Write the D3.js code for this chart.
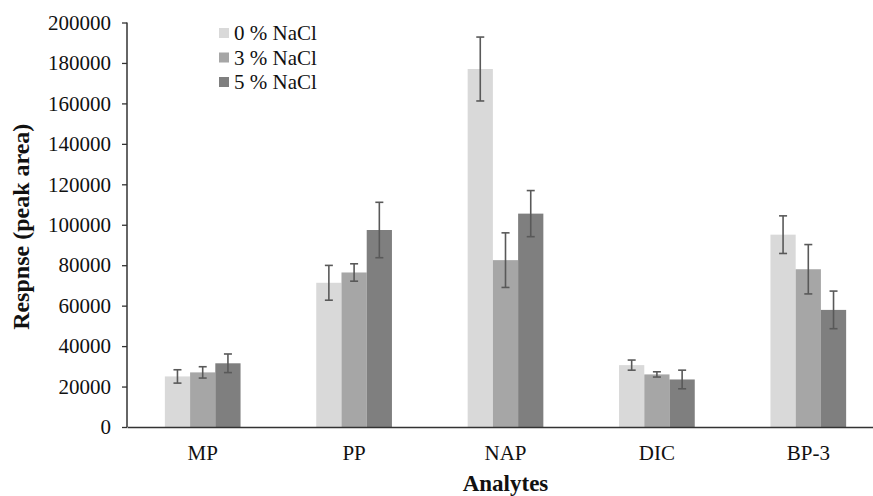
<!DOCTYPE html>
<html>
<head>
<meta charset="utf-8">
<script src="https://cdn.jsdelivr.net/npm/d3@7"></script>
<style>
  body { margin: 0; background: #fff; }
  svg { display: block; font-family: "Liberation Serif", "Times New Roman", serif; }
</style>
</head>
<body>
<svg></svg>
<script>
// size of the picture
var width = 873;
var height = 496;

// data
var analytes = ["MP", "PP", "NAP", "DIC", "BP-3"];
var seriesNames = ["0 % NaCl", "3 % NaCl", "5 % NaCl"];
var salt0 = [25000, 71300, 177000, 30600, 95100];
var salt3 = [27000, 76400, 82500, 26000, 78000];
var salt5 = [31500, 97400, 105500, 23500, 57900];
var err0 = [3300, 8600, 15800, 2500, 9300];
var err3 = [2800, 4300, 13500, 1300, 12200];
var err5 = [4600, 13700, 11400, 4600, 9300];
var yTicks = [0, 20000, 40000, 60000, 80000, 100000, 120000, 140000, 160000, 180000, 200000];
var colors = ["#d9d9d9", "#a6a6a6", "#7f7f7f"];

var values = [salt0, salt3, salt5];
var errors = [err0, err3, err5];

var svg = d3.select("svg")
    .attr("width", width)
    .attr("height", height);

// scales
var x = d3.scaleBand()
    .domain(analytes)
    .range([127, 884])
    .paddingInner(0.5)
    .paddingOuter(0.25);

var xSub = d3.scaleBand()
    .domain(seriesNames)
    .range([0, x.bandwidth()]);

var y = d3.scaleLinear()
    .domain([0, 200000])
    .range([427, 22.5]);

// build flat table for the bars
var rows = [];
analytes.forEach(function(a, i) {
    seriesNames.forEach(function(s, j) {
        rows.push({ analyte: a, series: s, idx: j, value: values[j][i], err: errors[j][i] });
    });
});

// bars
svg.append("g")
    .selectAll("rect")
    .data(rows)
    .enter().append("rect")
    .attr("x", function(d) { return x(d.analyte) + xSub(d.series); })
    .attr("y", function(d) { return y(d.value); })
    .attr("width", xSub.bandwidth())
    .attr("height", function(d) { return y(0) - y(d.value); })
    .attr("fill", function(d) { return colors[d.idx]; });

// error bars
var eb = svg.append("g")
    .attr("stroke", "#595959")
    .attr("stroke-width", 1.6)
    .selectAll("g")
    .data(rows)
    .enter().append("g")
    .attr("transform", function(d) {
        return "translate(" + (x(d.analyte) + xSub(d.series) + xSub.bandwidth() / 2) + ",0)";
    });

eb.append("line")
    .attr("y1", function(d) { return y(d.value + d.err); })
    .attr("y2", function(d) { return y(d.value - d.err); });
eb.append("line")
    .attr("x1", -4).attr("x2", 4)
    .attr("y1", function(d) { return y(d.value + d.err); })
    .attr("y2", function(d) { return y(d.value + d.err); });
eb.append("line")
    .attr("x1", -4).attr("x2", 4)
    .attr("y1", function(d) { return y(d.value - d.err); })
    .attr("y2", function(d) { return y(d.value - d.err); });

// y axis
var yAxis = svg.append("g")
    .attr("transform", "translate(127,0)")
    .call(d3.axisLeft(y)
        .tickValues(yTicks)
        .tickSize(5)
        .tickPadding(11)
        .tickFormat(d3.format("d")));
yAxis.select(".domain").attr("stroke", "#333").attr("stroke-width", 1.5)
    .attr("d", "M0," + y(200000) + "V" + y(0));
yAxis.selectAll(".tick line").attr("stroke", "#333").attr("stroke-width", 1.3);
yAxis.selectAll(".tick text")
    .style("font-family", "Liberation Serif")
    .style("font-size", "21px")
    .attr("fill", "#111");

// x axis
var xAxis = svg.append("g")
    .attr("transform", "translate(0,427)")
    .call(d3.axisBottom(x).tickSize(0).tickPadding(18));
xAxis.select(".domain").attr("stroke", "#333").attr("stroke-width", 1.5);
xAxis.selectAll(".tick text")
    .style("font-family", "Liberation Serif")
    .style("font-size", "21px")
    .attr("fill", "#111");

// axis titles
svg.append("text")
    .attr("transform", "translate(29," + ((y(0) + y(200000)) / 2 + 2) + ") rotate(-90)")
    .attr("text-anchor", "middle")
    .attr("font-weight", "bold")
    .style("font-size", "24px")
    .attr("fill", "#111")
    .text("Respnse (peak area)");

svg.append("text")
    .attr("x", (x.range()[0] + x.range()[1]) / 2)
    .attr("y", 491)
    .attr("text-anchor", "middle")
    .attr("font-weight", "bold")
    .style("font-size", "23px")
    .attr("fill", "#111")
    .text("Analytes");

// legend
var legend = svg.append("g")
    .attr("transform", "translate(219,33)")
    .selectAll("g")
    .data(seriesNames)
    .enter().append("g")
    .attr("transform", function(d, i) { return "translate(0," + (i * 24.5) + ")"; });

legend.append("rect")
    .attr("x", 0).attr("y", -5)
    .attr("width", 10).attr("height", 10)
    .attr("fill", function(d, i) { return colors[i]; });

legend.append("text")
    .attr("x", 15)
    .attr("y", 7)
    .style("font-size", "21px")
    .attr("fill", "#111")
    .text(function(d) { return d; });
</script>
</body>
</html>
